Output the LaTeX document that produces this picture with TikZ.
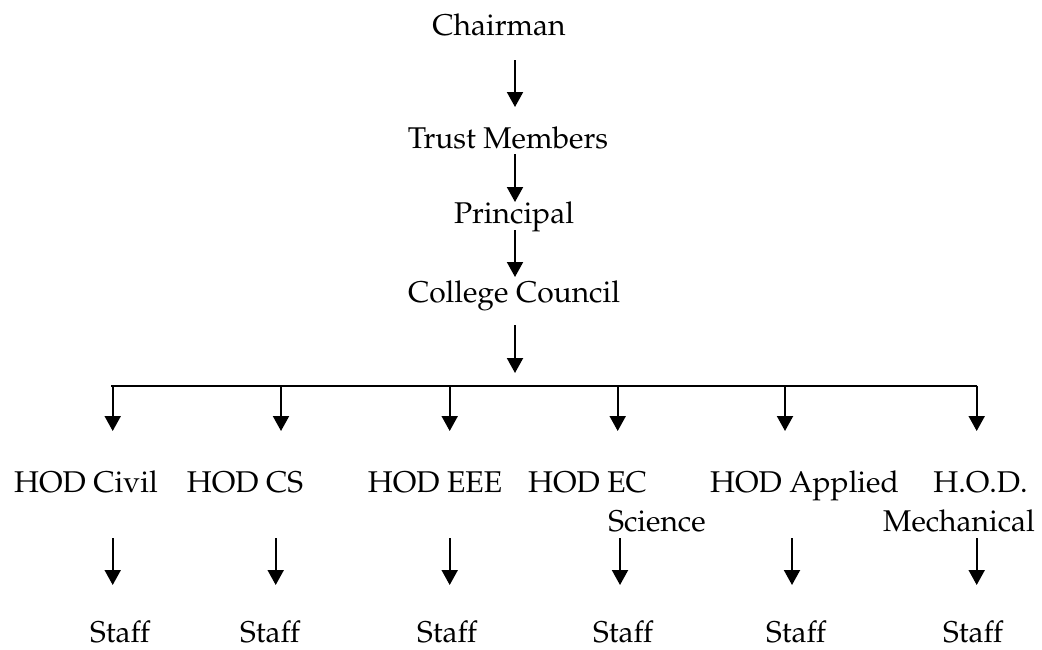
\documentclass[tikz,border=0pt]{standalone}
\usepackage[T1]{fontenc}
\usepackage{mathpazo}
\usetikzlibrary{arrows.meta}
\begin{document}
\begin{tikzpicture}[x=1pt,y=-1pt,
  lbl/.style={font=\fontsize{30}{36}\selectfont, inner sep=0pt, anchor=base},
  arr/.style={-{Triangle[length=15pt,width=16pt]}, line width=2pt},
  bar/.style={line width=2pt}]
\useasboundingbox (0,0) rectangle (1042,649);
% top chain
\node[lbl] (chair) at (499,35) {Chairman};
\node[lbl] (trust) at (508,148) {Trust Members};
\node[lbl] (princ) at (514,223) {Principal};
\node[lbl] (council) at (514,302) {College Council};
\coordinate (a1s) at (515,60);  \coordinate (a1e) at (515,107);
\coordinate (a2s) at (515,154); \coordinate (a2e) at (515,202);
\coordinate (a3s) at (515,230); \coordinate (a3e) at (515,277);
\coordinate (a4s) at (515,325); \coordinate (a4e) at (515,373);
\draw[arr] (a1s) -- (a1e);
\draw[arr] (a2s) -- (a2e);
\draw[arr] (a3s) -- (a3e);
\draw[arr] (a4s) -- (a4e);
% bar
\coordinate (barL) at (111,385.7);
\coordinate (barR) at (977,385.7);
\draw[bar] (barL) -- (barR);
% HODs
\node[lbl] (h1) at (86,492) {HOD Civil};
\node[lbl] (h2) at (245,492) {HOD CS};
\node[lbl] (h3) at (435,492) {HOD EEE};
\node[lbl] (h4) at (587.5,492) {HOD EC};
\node[lbl] (h5) at (804.5,492) {HOD Applied};
\node[lbl] (h6) at (980.5,492) {H.O.D.};
\node[lbl] (h4b) at (657,531) {Science};
\node[lbl] (h6b) at (959,531) {Mechanical};
% staff
\node[lbl] (s1) at (120,642) {Staff};
\node[lbl] (s2) at (270,642) {Staff};
\node[lbl] (s3) at (447,642) {Staff};
\node[lbl] (s4) at (623,642) {Staff};
\node[lbl] (s5) at (796,642) {Staff};
\node[lbl] (s6) at (973,642) {Staff};
% branch arrows
\foreach \i/\x in {1/112.7,2/281,3/449.7,4/617.7,5/785,6/976.7}{
  \coordinate (b\i s) at (\x,385.7);
  \coordinate (b\i e) at (\x,431);
  \draw[arr] (b\i s) -- (b\i e);
}
% staff arrows
\foreach \i/\x in {1/112.7,2/275.7,3/449.7,4/620,5/792,6/976.7}{
  \coordinate (c\i s) at (\x,538);
  \coordinate (c\i e) at (\x,585);
  \draw[arr] (c\i s) -- (c\i e);
}
\end{tikzpicture}
\end{document}
